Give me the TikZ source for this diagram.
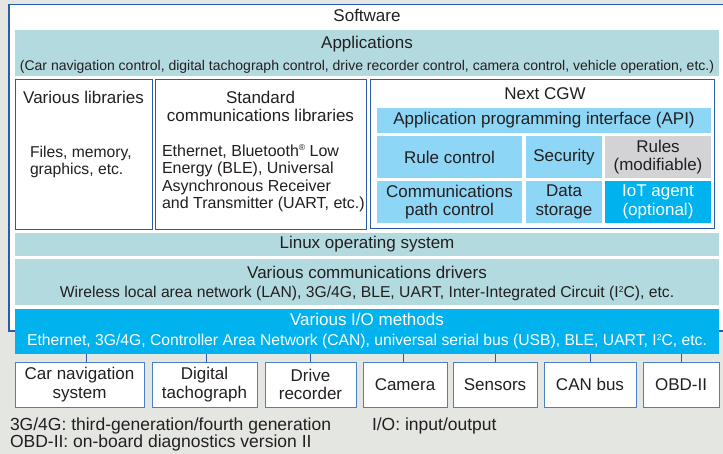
\documentclass[tikz,border=0pt]{standalone}
\usepackage{fontspec}
\setmainfont{Liberation Sans}
\definecolor{bgc}{HTML}{E4E6E1}
\definecolor{teal}{HTML}{B3DADF}
\definecolor{lcyan}{HTML}{8DD6F5}
\definecolor{scyan}{HTML}{00B3EE}
\definecolor{greyb}{HTML}{D3D3D5}
\definecolor{bdr}{HTML}{2A5CAA}
\definecolor{bdr2}{HTML}{4A80C4}
\definecolor{ink}{HTML}{231F20}
\newcommand{\supsc}[1]{\raisebox{5.5pt}{\fontsize{8.5}{8.5}\selectfont #1}}
\begin{document}
\begin{tikzpicture}[x=1pt,y=-1pt,
  box/.style={inner sep=0pt, outer sep=0pt, anchor=north west, text=ink, align=center,
    font=\fontsize{17}{18.5}\selectfont},
  band/.style={box, fill=teal},
  wbox/.style={box, fill=white, draw=bdr, line width=0.9pt},
  ibox/.style={box, fill=lcyan},
  dev/.style={box, fill=white, draw=bdr2, line width=0.9pt, minimum height=45pt},
  ttl/.style={inner sep=0pt, outer sep=0pt, anchor=base, text=ink, align=center,
    font=\fontsize{17}{18.5}\selectfont},
  sub/.style={inner sep=0pt, outer sep=0pt, anchor=base, text=ink, align=center,
    font=\fontsize{15.7}{17.3}\selectfont},
  note/.style={inner sep=0pt, outer sep=0pt, anchor=base west, align=left, text=ink,
    font=\fontsize{17.5}{16.7}\selectfont},
  link/.style={draw=bdr, line width=0.9pt}
]
\useasboundingbox (0,0) rectangle (723,454);
\fill[bgc] (0,0) rectangle (723,454);

% Software frame
\node[wbox, line width=1.2pt, minimum width=717pt, minimum height=326.5pt] (sw) at (9,4.5) {};
\node[ttl] (swt) at (367,21.7) {Software};

% Applications
\node[band, minimum width=704pt, minimum height=46pt] (app) at (15,30) {};
\node[ttl] (appt) at (367,48.3) {Applications};
\node[sub, font=\fontsize{14}{16}\selectfont] (apps) at (367,70.5) {(Car navigation control, digital tachograph control, drive recorder control, camera control, vehicle operation, etc.)};

% Various libraries
\node[wbox, minimum width=137pt, minimum height=150pt] (vl) at (15,79) {};
\node[ttl] (vlt) at (83.5,103.3) {Various libraries};
\node[sub, anchor=base west, align=left] (vls) at (30,174.8) {Files, memory,\\graphics, etc.};

% Standard communications libraries
\node[wbox, minimum width=211pt, minimum height=150pt] (scl) at (155,79) {};
\node[ttl] (sclt) at (260.5,121.7) {Standard\\communications libraries};
\node[sub, anchor=base west, align=left, font=\fontsize{16}{17.3}\selectfont] (scls) at (162,208.4)
  {Ethernet, Bluetooth\supsc{®} Low\\Energy (BLE), Universal\\Asynchronous Receiver\\and Transmitter (UART, etc.)};

% Next CGW
\node[wbox, minimum width=344pt, minimum height=149pt] (cgw) at (370,79) {};
\node[ttl] (cgwt) at (545,100) {Next CGW};
\node[ibox, minimum width=334pt, minimum height=25pt] (api) at (377,108) {Application programming interface (API)};
\node[ibox, minimum width=145pt, minimum height=42pt] (rc) at (377,136) {Rule control};
\node[ibox, minimum width=76pt, minimum height=42pt] (sec) at (526,136) {Security};
\node[box, fill=greyb, minimum width=106pt, minimum height=42pt] (rules) at (605,136) {Rules\\(modifiable)};
\node[ibox, minimum width=145pt, minimum height=42pt] (cpc) at (377,181) {Communications\\path control};
\node[ibox, minimum width=76pt, minimum height=42pt] (ds) at (526,181) {Data\\storage};
\node[box, fill=scyan, text=white, minimum width=106pt, minimum height=42pt] (iot) at (605,181) {IoT agent\\(optional)};

% Linux
\node[band, minimum width=704pt, minimum height=23pt] (linux) at (15,233) {Linux operating system};

% Drivers
\node[band, minimum width=704pt, minimum height=46pt] (drv) at (15,259) {};
\node[ttl] (drvt) at (367,278.3) {Various communications drivers};
\node[sub] (drvs) at (367,297.7) {Wireless local area network (LAN), 3G/4G, BLE, UART, Inter-Integrated Circuit (I\supsc{2}C), etc.};

% I/O methods
\node[box, fill=scyan, minimum width=704pt, minimum height=45pt] (io) at (15,309) {};
\node[ttl, text=white] (iot1) at (367,325.7) {Various I/O methods};
\node[sub, text=white] (ios) at (367,345.7) {Ethernet, 3G/4G, Controller Area Network (CAN), universal serial bus (USB), BLE, UART, I\supsc{2}C, etc.};

% Devices
\node[dev, minimum width=129pt] (car) at (15,362) {Car navigation\\system};
\node[dev, minimum width=105pt] (tacho) at (152,362) {Digital\\tachograph};
\node[dev, minimum width=91pt] (drec) at (265,362) {Drive\\recorder};
\node[dev, minimum width=84pt] (cam) at (363,362) {Camera};
\node[dev, minimum width=84pt] (sens) at (453,362) {Sensors};
\node[dev, minimum width=92pt] (can) at (544,362) {CAN bus};
\node[dev, minimum width=76pt] (obd) at (643,362) {OBD-II};

\draw[link] ([xshift=6.5pt]car.north) -- ([xshift=6.5pt]car.north |- io.south);
\draw[link] ([xshift=1.5pt]tacho.north) -- ([xshift=1.5pt]tacho.north |- io.south);
\draw[link] (drec.north) -- (drec.north |- io.south);
\draw[link] ([xshift=-2pt]cam.north) -- ([xshift=-2pt]cam.north |- io.south);
\draw[link] (sens.north) -- (sens.north |- io.south);
\draw[link] (can.north) -- (can.north |- io.south);
\draw[link] (obd.north) -- (obd.north |- io.south);

% Footnotes
\node[note] (fn1) at (10,447) {3G/4G: third-generation/fourth generation\\OBD-II: on-board diagnostics version II};
\node[note] (fn2) at (372,430) {I/O: input/output};
\end{tikzpicture}
\end{document}
